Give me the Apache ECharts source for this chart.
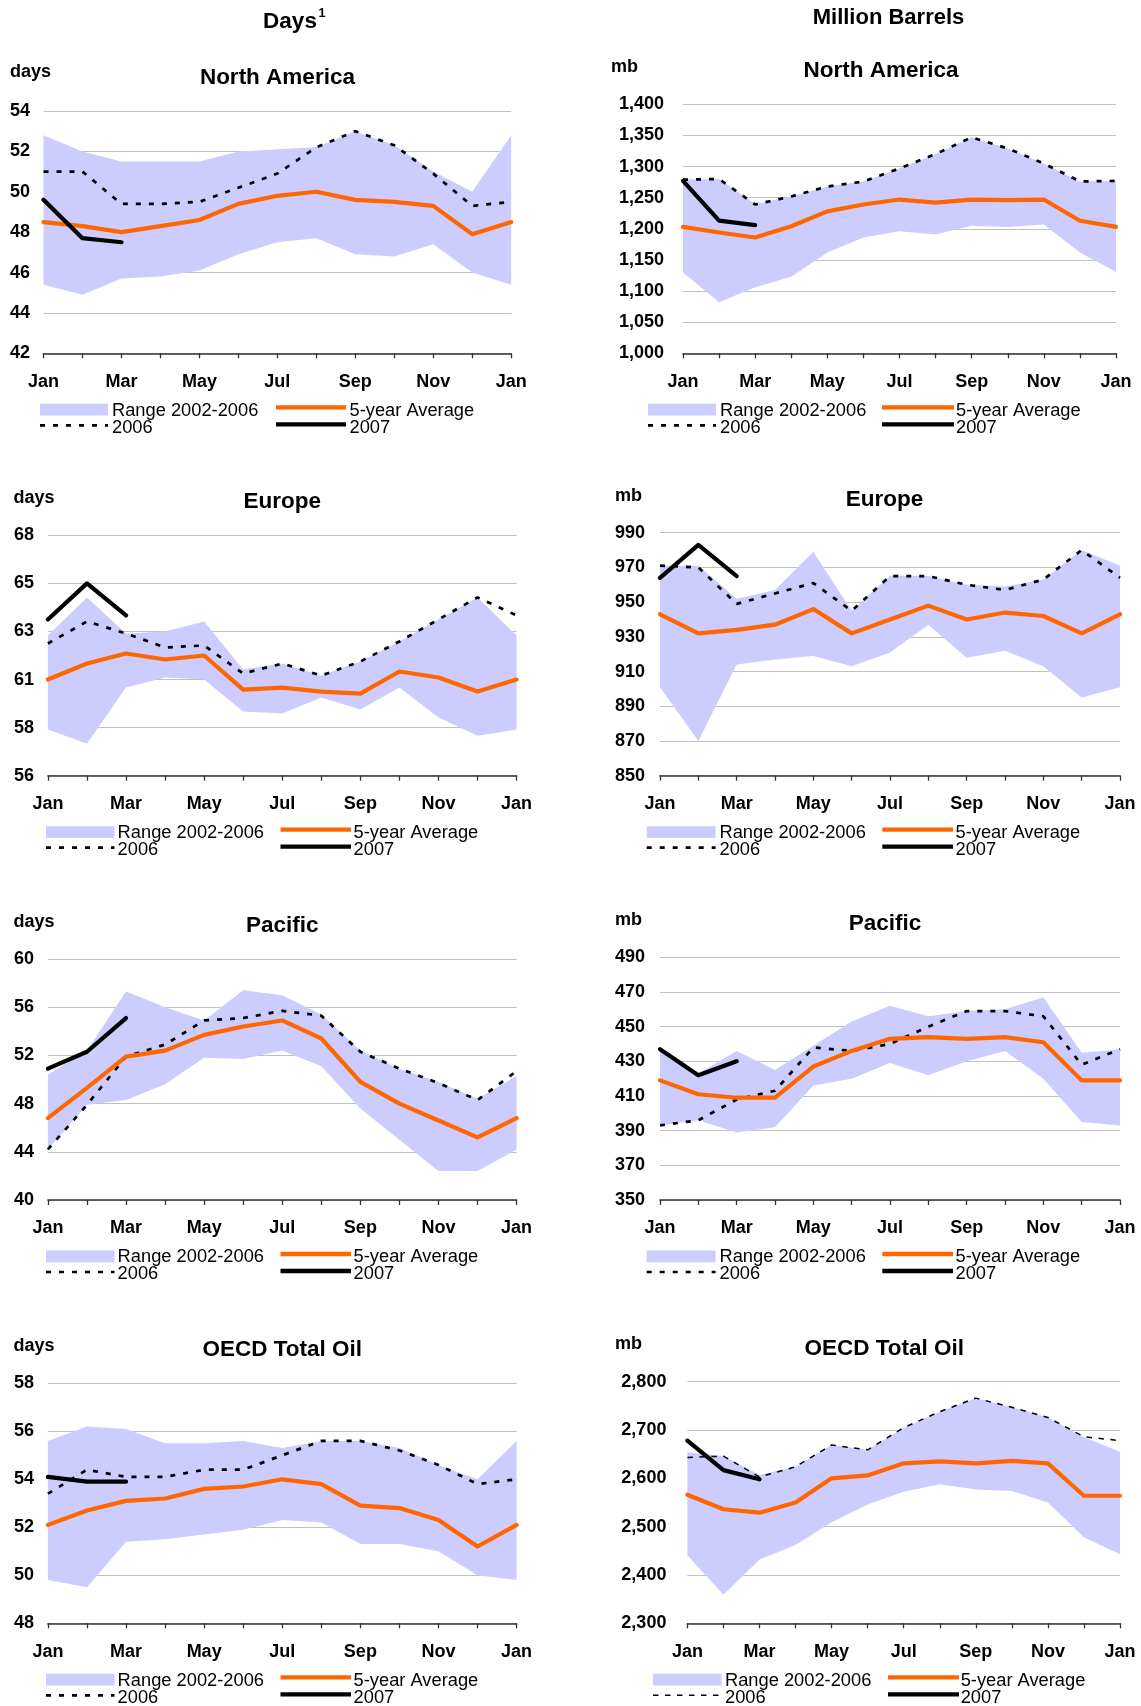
<!DOCTYPE html>
<html>
<head>
<meta charset="utf-8">
<title>OECD Industry Oil Stocks</title>
<script src="https://cdn.jsdelivr.net/npm/echarts@6/dist/echarts.min.js"></script>
<style>
  html, body { margin: 0; padding: 0; background: #ffffff; }
  #chart { width: 1141px; height: 1706px; }
</style>
</head>
<body>
<div id="chart"></div>
<script>
// Month categories (Jan of the year through Jan of the next)
const months = ['Jan', 'Feb', 'Mar', 'Apr', 'May', 'Jun', 'Jul', 'Aug', 'Sep', 'Oct', 'Nov', 'Dec', 'Jan'];

// North America — days of forward demand
const naDaysLow  = [45.4, 44.9, 45.7, 45.8, 46.1, 46.9, 47.5, 47.7, 46.9, 46.8, 47.4, 46.0, 45.4];
const naDaysHigh = [52.8, 52.0, 51.5, 51.5, 51.5, 52.0, 52.1, 52.2, 53.0, 52.3, 51.0, 50.0, 52.8];
const naDays2006 = [51.0, 51.0, 49.4, 49.4, 49.5, 50.2, 50.9, 52.2, 53.0, 52.3, 50.9, 49.3, 49.5];
const naDaysAvg  = [48.5, 48.3, 48.0, 48.3, 48.6, 49.4, 49.8, 50.0, 49.6, 49.5, 49.3, 47.9, 48.5];
const naDays2007 = [49.6, 47.7, 47.5];
const naDaysTicks = ['42', '44', '46', '48', '50', '52', '54'];

// North America — million barrels
const naMbLow  = [1130, 1082, 1106, 1123, 1162, 1186, 1196, 1191, 1205, 1203, 1207, 1162, 1131];
const naMbHigh = [1279, 1280, 1240, 1252, 1268, 1276, 1297, 1320, 1347, 1329, 1305, 1276, 1277];
const naMb2006 = [1279, 1280, 1239, 1252, 1268, 1276, 1297, 1320, 1347, 1329, 1305, 1276, 1277];
const naMbAvg  = [1203, 1194, 1186, 1204, 1228, 1239, 1247, 1242, 1247, 1246, 1247, 1213, 1203];
const naMb2007 = [1277, 1213, 1206];
const naMbTicks = ['1,000', '1,050', '1,100', '1,150', '1,200', '1,250', '1,300', '1,350', '1,400'];

// Europe — days
const euDaysLow  = [58.3, 57.6, 60.4, 60.9, 60.8, 59.2, 59.1, 59.9, 59.3, 60.4, 58.9, 58.0, 58.3];
const euDaysHigh = [63.0, 64.9, 63.1, 63.2, 63.7, 61.3, 61.6, 61.0, 61.7, 62.7, 63.8, 64.9, 63.0];
const euDays2006 = [62.6, 63.7, 63.1, 62.4, 62.5, 61.1, 61.6, 61.0, 61.7, 62.7, 63.8, 64.9, 64.0];
const euDaysAvg  = [60.8, 61.6, 62.1, 61.8, 62.0, 60.3, 60.4, 60.2, 60.1, 61.2, 60.9, 60.2, 60.8];
const euDays2007 = [63.8, 65.6, 64.0];
const euDaysTicks = ['56', '58', '61', '63', '65', '68'];

// Europe — million barrels
const euMbLow  = [901, 870, 914, 917, 919, 913, 921, 937, 918, 922, 913, 895, 901];
const euMbHigh = [971, 971, 952, 957, 979, 945, 965, 965, 960, 959, 963, 980, 971];
const euMb2006 = [971, 970, 949, 955, 961, 945, 965, 965, 960, 957, 963, 980, 964];
const euMbAvg  = [943, 932, 934, 937, 946, 932, 940, 948, 940, 944, 942, 932, 943];
const euMb2007 = [964, 983, 965];
const euMbTicks = ['850', '870', '890', '910', '930', '950', '970', '990'];

// Pacific — days
const paDaysLow  = [44.2, 47.9, 48.3, 49.6, 51.8, 51.7, 52.4, 51.1, 47.6, 45.0, 42.4, 42.4, 44.2];
const paDaysHigh = [50.4, 52.4, 57.3, 56.0, 54.9, 57.4, 57.0, 55.4, 52.4, 50.9, 49.8, 48.4, 50.3];
const paDays2006 = [44.2, 47.9, 51.9, 52.9, 54.9, 55.1, 55.7, 55.3, 52.3, 50.9, 49.7, 48.3, 50.7];
const paDaysAvg  = [46.8, 49.3, 51.9, 52.4, 53.7, 54.4, 54.9, 53.4, 49.8, 48.0, 46.6, 45.2, 46.8];
const paDays2007 = [50.9, 52.3, 55.1];
const paDaysTicks = ['40', '44', '48', '52', '56', '60'];

// Pacific — million barrels
const paMbLow  = [393, 396, 389, 392, 416, 420, 429, 422, 430, 436, 420, 395, 393];
const paMbHigh = [437, 423, 436, 425, 439, 453, 462, 456, 459, 460, 467, 435, 437];
const paMb2006 = [393, 396, 408, 413, 438, 436, 440, 450, 459, 459, 456, 428, 437];
const paMbAvg  = [419, 411, 409, 409, 427, 436, 443, 444, 443, 444, 441, 419, 419];
const paMb2007 = [437, 422, 430];
const paMbTicks = ['350', '370', '390', '410', '430', '450', '470', '490'];

// OECD total oil — days
const oeDaysLow  = [49.8, 49.5, 51.4, 51.5, 51.7, 51.9, 52.3, 52.2, 51.3, 51.3, 51.0, 50.0, 49.8];
const oeDaysHigh = [55.6, 56.2, 56.1, 55.5, 55.5, 55.6, 55.3, 55.6, 55.6, 55.3, 54.6, 54.0, 55.6];
const oeDays2006 = [53.4, 54.4, 54.1, 54.1, 54.4, 54.4, 55.0, 55.6, 55.6, 55.2, 54.6, 53.8, 54.0];
const oeDaysAvg  = [52.1, 52.7, 53.1, 53.2, 53.6, 53.7, 54.0, 53.8, 52.9, 52.8, 52.3, 51.2, 52.1];
const oeDays2007 = [54.1, 53.9, 53.9];
const oeDaysTicks = ['48', '50', '52', '54', '56', '58'];

// OECD total oil — million barrels
const oeMbLow  = [2441, 2359, 2432, 2462, 2509, 2546, 2572, 2588, 2577, 2574, 2550, 2478, 2443];
const oeMbHigh = [2654, 2646, 2607, 2624, 2669, 2659, 2704, 2738, 2766, 2747, 2726, 2685, 2655];
const oeMb2006 = [2643, 2646, 2603, 2624, 2669, 2659, 2705, 2738, 2766, 2747, 2726, 2686, 2678];
const oeMbAvg  = [2566, 2536, 2529, 2550, 2600, 2606, 2631, 2635, 2631, 2636, 2631, 2564, 2564];
const oeMb2007 = [2678, 2617, 2598];
const oeMbTicks = ['2,300', '2,400', '2,500', '2,600', '2,700', '2,800'];

// ---- styling ----
const FONT = '"Liberation Sans", Arial, Helvetica, sans-serif';
const RANGE = '#CCCCFF';
const ORANGE = '#FF6600';
const GRID_LINE = '#C0C0C0';
const AXIS = '#333333';
const DOTS = { width: 2.7, type: [5, 8] };
const DASHES = { width: 1.5, type: [5.5, 6.5] };

const leftKey  = { rect: [46, 114.5], tx1: 117.6, line: [280.5, 351], tx2: 353.6 };
const rightKey = { rect: [646.7, 715.6], tx1: 719.5, line: [882.3, 953], tx2: 955.5 };

const panels = [
  { title: 'North America', unit: 'days', low: naDaysLow, high: naDaysHigh, y2006: naDays2006, avg: naDaysAvg, y2007: naDays2007,
    ticks: naDaysTicks, yMin: 42, yStep: 2, grid: { left: 43.5, top: 111, width: 467.7, height: 242.3 }, labelGap: 13.5,
    titleAt: [277.4, 77.5], unitAt: [10, 72.5], dash: DOTS,
    key: { rect: [40, 108], tx1: 112, line: [276, 346], tx2: 349.5 } },
  { title: 'North America', unit: 'mb', low: naMbLow, high: naMbHigh, y2006: naMb2006, avg: naMbAvg, y2007: naMb2007,
    ticks: naMbTicks, yMin: 1000, yStep: 50, grid: { left: 683, top: 104.3, width: 433, height: 249 }, labelGap: 19,
    titleAt: [881, 70.8], unitAt: [611, 67.3], dash: DOTS,
    key: { rect: [648, 716], tx1: 720, line: [882, 954], tx2: 956 } },
  { title: 'Europe', unit: 'days', low: euDaysLow, high: euDaysHigh, y2006: euDays2006, avg: euDaysAvg, y2007: euDays2007,
    ticks: euDaysTicks, yMin: 56, yStep: 2.4, grid: { left: 47.9, top: 535.3, width: 468.7, height: 240.4 }, labelGap: 14,
    titleAt: [282.3, 501.8], unitAt: [13.5, 498], dash: DOTS, key: leftKey },
  { title: 'Europe', unit: 'mb', low: euMbLow, high: euMbHigh, y2006: euMb2006, avg: euMbAvg, y2007: euMb2007,
    ticks: euMbTicks, yMin: 850, yStep: 20, grid: { left: 660, top: 532.7, width: 460, height: 243 }, labelGap: 15,
    titleAt: [884.4, 499.5], unitAt: [615, 496.3], dash: DOTS, key: rightKey },
  { title: 'Pacific', unit: 'days', low: paDaysLow, high: paDaysHigh, y2006: paDays2006, avg: paDaysAvg, y2007: paDays2007,
    ticks: paDaysTicks, yMin: 40, yStep: 4, grid: { left: 47.9, top: 959, width: 468.7, height: 241 }, labelGap: 14,
    titleAt: [282.3, 925.3], unitAt: [13.5, 922.3], dash: DOTS, key: leftKey },
  { title: 'Pacific', unit: 'mb', low: paMbLow, high: paMbHigh, y2006: paMb2006, avg: paMbAvg, y2007: paMb2007,
    ticks: paMbTicks, yMin: 350, yStep: 20, grid: { left: 660, top: 957.3, width: 460, height: 242.7 }, labelGap: 15,
    titleAt: [885, 923.5], unitAt: [615, 920.3], dash: DOTS, key: rightKey },
  { title: 'OECD Total Oil', unit: 'days', low: oeDaysLow, high: oeDaysHigh, y2006: oeDays2006, avg: oeDaysAvg, y2007: oeDays2007,
    ticks: oeDaysTicks, yMin: 48, yStep: 2, grid: { left: 47.9, top: 1383.3, width: 468.7, height: 240 }, labelGap: 14,
    titleAt: [282.3, 1349.5], unitAt: [13.5, 1346.3], dash: DOTS, key: leftKey },
  { title: 'OECD Total Oil', unit: 'mb', low: oeMbLow, high: oeMbHigh, y2006: oeMb2006, avg: oeMbAvg, y2007: oeMb2007,
    ticks: oeMbTicks, yMin: 2300, yStep: 100, grid: { left: 687.4, top: 1381.7, width: 432.6, height: 241.6 }, labelGap: 21,
    titleAt: [884.3, 1348.5], unitAt: [615, 1344.3], dash: DASHES,
    key: { rect: [653, 721.5], tx1: 725, line: [888, 959], tx2: 960.7 } }
];

function text(x, y, s, size, bold, align) {
  const a = align || 'left';
  return {
    type: 'text', x: x, y: y, silent: true,
    style: {
      text: s, fill: '#000000',
      font: (bold ? 'bold ' : '') + size + 'px ' + FONT,
      textAlign: a, align: a, textVerticalAlign: 'middle', verticalAlign: 'middle'
    }
  };
}

function keyFor(p) {
  const b = p.grid.top + p.grid.height + 1;
  const k = p.key;
  return [
    { type: 'rect', silent: true, shape: { x: k.rect[0], y: b + 49.5, width: k.rect[1] - k.rect[0], height: 11.7 }, style: { fill: RANGE } },
    text(k.tx1, b + 56.2, 'Range 2002-2006', 18.3, false),
    { type: 'line', silent: true, shape: { x1: k.line[0], y1: b + 53, x2: k.line[1], y2: b + 53 }, style: { stroke: ORANGE, lineWidth: 4.3 } },
    text(k.tx2, b + 56.2, '5-year Average', 18.3, false),
    { type: 'line', silent: true, shape: { x1: k.rect[0], y1: b + 71, x2: k.rect[1], y2: b + 71 }, style: { stroke: '#000000', lineWidth: p.dash.width, lineDash: p.dash.type } },
    text(k.tx1, b + 73.2, '2006', 18.3, false),
    { type: 'line', silent: true, shape: { x1: k.line[0], y1: b + 70, x2: k.line[1], y2: b + 70 }, style: { stroke: '#000000', lineWidth: 4.3 } },
    text(k.tx2, b + 73.2, '2007', 18.3, false)
  ];
}

const grids = [], xAxes = [], yAxes = [], series = [];
let graphics = [
  text(290, 22, 'Days', 22.5, true, 'center'),
  text(318.5, 14, '1', 12.5, true, 'left'),
  text(888.5, 18, 'Million Barrels', 22, true, 'center')
];

panels.forEach(function (p, i) {
  grids.push(Object.assign({ containLabel: false, outerBoundsMode: 'none' }, p.grid));
  xAxes.push({
    type: 'category', gridIndex: i, data: months, boundaryGap: false,
    axisLine: { show: true, onZero: false, lineStyle: { color: AXIS, width: 1.6 } },
    axisTick: { show: true, interval: 0, length: 5, inside: false, lineStyle: { color: AXIS, width: 1.3 } },
    axisLabel: { interval: 1, margin: 19.5, color: '#000000', fontFamily: FONT, fontWeight: 'bold', fontSize: 18 },
    splitLine: { show: false }
  });
  const yMax = p.yMin + p.yStep * (p.ticks.length - 1);
  yAxes.push({
    type: 'value', gridIndex: i, min: p.yMin, max: yMax, interval: p.yStep,
    axisLine: { show: false }, axisTick: { show: false },
    splitLine: { show: true, lineStyle: { color: GRID_LINE, width: 1 } },
    axisLabel: {
      margin: p.labelGap, color: '#000000', fontFamily: FONT, fontWeight: 'bold', fontSize: 18,
      formatter: (function (ticks, min, step) {
        return function (v) { return ticks[Math.round((v - min) / step)] || ''; };
      })(p.ticks, p.yMin, p.yStep)
    }
  });

  const common = { xAxisIndex: i, yAxisIndex: i, type: 'line', symbol: 'none', silent: true, smooth: false, animation: false };
  // lower edge of the 2002-2006 band (invisible base)
  series.push(Object.assign({}, common, {
    name: 'rangeBase' + i, stack: 'band' + i, data: p.low,
    lineStyle: { width: 0, opacity: 0 }, z: 1
  }));
  // band thickness stacked on the base
  series.push(Object.assign({}, common, {
    name: 'Range 2002-2006', stack: 'band' + i,
    data: p.high.map(function (h, k) { return +(h - p.low[k]).toFixed(3); }),
    lineStyle: { width: 0, opacity: 0 }, areaStyle: { color: RANGE, opacity: 1 }, z: 1
  }));
  series.push(Object.assign({}, common, {
    name: '2006', data: p.y2006,
    lineStyle: { color: '#000000', width: p.dash.width, type: p.dash.type }, z: 3
  }));
  series.push(Object.assign({}, common, {
    name: '5-year Average', data: p.avg,
    lineStyle: { color: ORANGE, width: 4.2, cap: 'round', join: 'round' }, z: 4
  }));
  series.push(Object.assign({}, common, {
    name: '2007', data: p.y2007,
    lineStyle: { color: '#000000', width: 4.2, cap: 'round', join: 'round' }, z: 5
  }));

  graphics.push(text(p.titleAt[0], p.titleAt[1], p.title, 22.5, true, 'center'));
  graphics.push(text(p.unitAt[0], p.unitAt[1], p.unit, 18, true, 'left'));
  graphics = graphics.concat(keyFor(p));
});

const chart = echarts.init(document.getElementById('chart'), null, { renderer: 'canvas' });
chart.setOption({
  backgroundColor: '#ffffff',
  animation: false,
  textStyle: { fontFamily: FONT },
  grid: grids,
  xAxis: xAxes,
  yAxis: yAxes,
  series: series,
  graphic: { elements: graphics }
});
</script>
</body>
</html>
